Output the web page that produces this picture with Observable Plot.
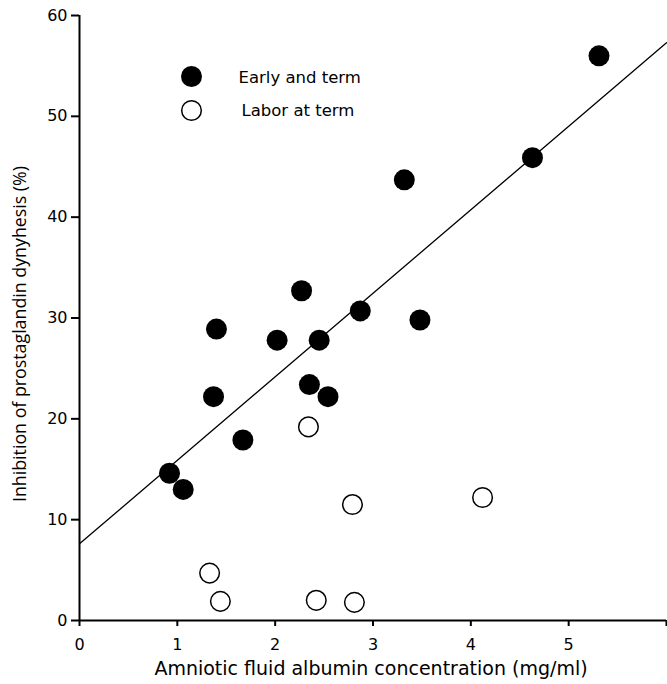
<!DOCTYPE html>
<html>
<head>
<meta charset="utf-8">
<script src="https://cdn.jsdelivr.net/npm/d3@7"></script>
<script src="https://cdn.jsdelivr.net/npm/@observablehq/plot@0.6"></script>
<style>
  html, body { margin: 0; padding: 0; background: #fff; }
  #chart svg { display: block; }
</style>
</head>
<body>
<div id="chart"></div>
<script>
// Early and term (filled)
const earlyX = [5.31, 4.63, 3.32, 2.27, 2.87, 3.48, 1.40, 2.02, 2.45, 2.35, 2.54, 1.37, 1.67, 0.92, 1.06];
const earlyY = [56.0, 45.9, 43.7, 32.7, 30.7, 29.8, 28.9, 27.8, 27.8, 23.4, 22.2, 22.2, 17.9, 14.6, 13.0];
// Labor at term (open)
const laborX = [2.34, 2.79, 4.12, 1.33, 1.44, 2.42, 2.81];
const laborY = [19.2, 11.5, 12.2, 4.7, 1.9, 2.0, 1.8];
// Regression line endpoints
const lineX = [0, 6];
const lineY = [7.6, 57.3];
const xTicks = [0, 1, 2, 3, 4, 5, 6];
const xTickLabels = ["0", "1", "2", "3", "4", "5", ""];
const yTicks = [0, 10, 20, 30, 40, 50, 60];
const seriesNames = ["Early and term", "Labor at term"];
const xLabel = "Amniotic fluid albumin concentration (mg/ml)";
const yLabel = "Inhibition of prostaglandin dynyhesis (%)";

const early = earlyX.map((x, i) => ({x, y: earlyY[i]}));
const labor = laborX.map((x, i) => ({x, y: laborY[i]}));
const line = lineX.map((x, i) => ({x, y: lineY[i]}));

const font = "'DejaVu Sans', Verdana, sans-serif";

const chart = Plot.plot({
  width: 667,
  height: 684,
  marginLeft: 79,
  marginRight: 1,
  marginTop: 15,
  marginBottom: 64,
  style: {fontFamily: font, background: "#fff", color: "#000"},
  x: {domain: [0, 6]},
  y: {domain: [0, 60]},
  marks: [
    Plot.line(line, {x: "x", y: "y", stroke: "#000", strokeWidth: 1.3}),
    Plot.axisX({ticks: xTicks, tickFormat: d => xTickLabels[xTicks.indexOf(d)], tickSize: 6, tickPadding: 12, fontSize: 16, label: null, strokeWidth: 2}),
    Plot.axisY({ticks: yTicks, tickSize: 8, tickPadding: 4, fontSize: 16, label: null, strokeWidth: 2}),
    Plot.ruleY([0], {stroke: "#000", strokeWidth: 2}),
    Plot.ruleX([0], {stroke: "#000", strokeWidth: 2}),
    Plot.dot(early, {x: "x", y: "y", r: 10.5, fill: "#000", stroke: "none"}),
    Plot.dot(labor, {x: "x", y: "y", r: 9.8, fill: "#fff", stroke: "#000", strokeWidth: 1.5}),
    // legend
    Plot.dot([seriesNames[0]], {frameAnchor: "top-left", dx: 112, dy: 61, r: 10.5, fill: "#000"}),
    Plot.dot([seriesNames[1]], {frameAnchor: "top-left", dx: 112, dy: 95, r: 9.8, fill: "#fff", stroke: "#000", strokeWidth: 1.5}),
    Plot.text([seriesNames[0]], {text: d => d, frameAnchor: "top-left", dx: 159, dy: 62, textAnchor: "start", lineAnchor: "middle", fontSize: 16.5, fill: "#000"}),
    Plot.text([seriesNames[1]], {text: d => d, frameAnchor: "top-left", dx: 162, dy: 95, textAnchor: "start", lineAnchor: "middle", fontSize: 16.5, fill: "#000"}),
    // axis labels
    Plot.text([xLabel], {text: d => d, frameAnchor: "bottom", dx: -2, dy: 48, lineAnchor: "middle", fontSize: 19, fill: "#000"}),
    Plot.text([yLabel], {text: d => d, frameAnchor: "left", dx: -59, dy: 16, rotate: -90, textAnchor: "middle", lineAnchor: "middle", fontSize: 17.8, fontFamily: "'Open Sans', sans-serif", fill: "#000"})
  ]
});
document.getElementById("chart").appendChild(chart);
</script>
</body>
</html>
